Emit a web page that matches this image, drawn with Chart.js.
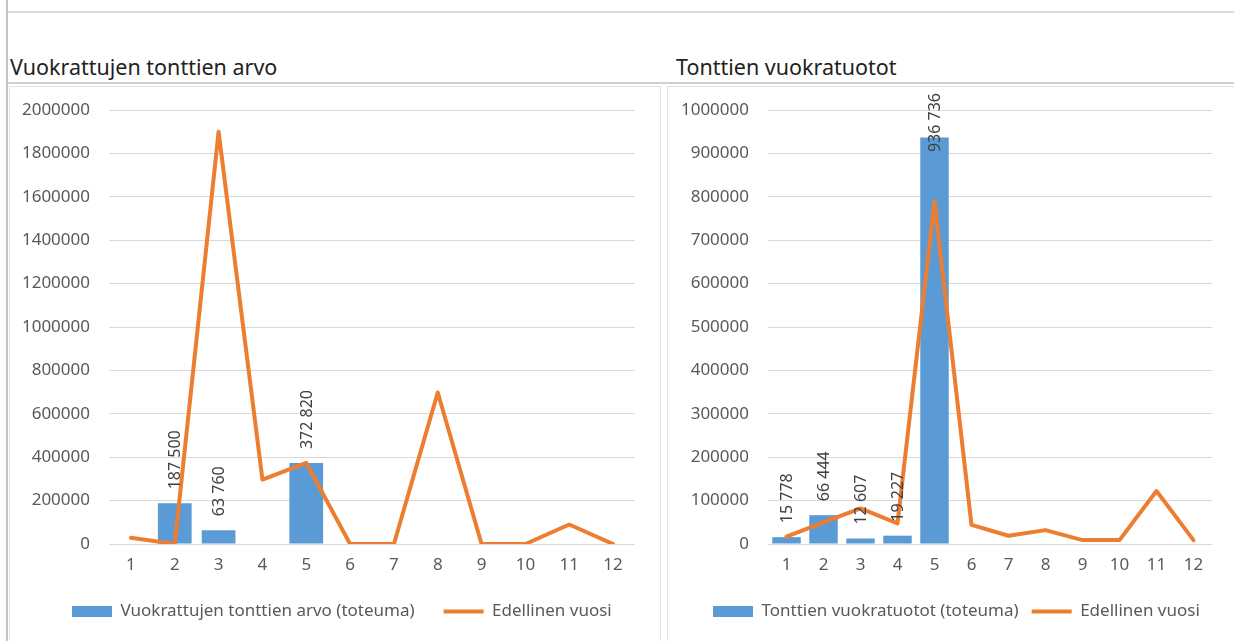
<!DOCTYPE html>
<html>
<head>
<meta charset="utf-8">
<script src="https://cdn.jsdelivr.net/npm/chart.js@4/dist/chart.umd.min.js"></script>
<style>
  html, body { margin: 0; padding: 0; background: #fff; }
  body { width: 1234px; height: 641px; position: relative; overflow: hidden; font-family: "Noto Sans", sans-serif; }
  .abs { position: absolute; }
  #vline { left: 6px; top: 0; width: 2px; height: 641px; background: #c4c4c4; }
  #topline { left: 8px; top: 11px; right: 0; height: 2px; background: #dcdcdc; }
  #sep { left: 8px; top: 82px; right: 0; height: 2px; background: #d0d0d0; }
  .title { top: 56px; font-size: 21.5px; line-height: 21px; color: #222; white-space: nowrap; }
  .panel { top: 86px; height: 600px; border: 1px solid #e2e2e2; }
  canvas { position: absolute; top: 88px; }
</style>
</head>
<body>
<div id="vline" class="abs"></div>
<div id="topline" class="abs"></div>
<div class="abs title" style="left:10px">Vuokrattujen tonttien arvo</div>
<div class="abs title" style="left:676px">Tonttien vuokratuotot</div>
<div id="sep" class="abs"></div>
<div class="abs panel" style="left:9px; width:650px"></div>
<div class="abs panel" style="left:667px; width:600px"></div>
<canvas id="arvoChart" width="650" height="553" style="left:10px"></canvas>
<canvas id="tuottoChart" width="566" height="553" style="left:668px"></canvas>
<script>
// kuukaudet
const months = ['1', '2', '3', '4', '5', '6', '7', '8', '9', '10', '11', '12'];

// Vuokrattujen tonttien arvo
const arvoToteuma = [null, 187500, 63760, null, 372820, null, null, null, null, null, null, null];
const arvoEdellinen = [29000, 0, 1900000, 297000, 374000, 0, 0, 698000, 0, 0, 90000, 0];
const arvoTicks = { max: 2000000, step: 200000 };

// Tonttien vuokratuotot
const tuottoToteuma = [15778, 66444, 12607, 19227, 936736, null, null, null, null, null, null, null];
const tuottoEdellinen = [17000, 50000, 82000, 47600, 789000, 44000, 19000, 32000, 9000, 9000, 122000, 9000];
const tuottoTicks = { max: 1000000, step: 100000 };

const BLUE = '#5B9BD5';
const ORANGE = '#ED7D31';
const FONT = 'Noto Sans';

Chart.defaults.font.family = FONT;
Chart.defaults.animation = false;

function fmtSpace(v) {
    return String(Math.round(v)).replace(/\B(?=(\d{3})+(?!\d))/g, ' ');
}

// pystysuorat arvot pylväiden päälle
const barLabels = {
    id: 'barLabels',
    afterDatasetsDraw(chart) {
        const ctx = chart.ctx;
        const meta = chart.getDatasetMeta(0);
        const values = chart.data.datasets[0].data;
        ctx.save();
        ctx.font = '16px "' + FONT + '"';
        ctx.fillStyle = '#404040';
        ctx.textAlign = 'left';
        ctx.textBaseline = 'middle';
        meta.data.forEach((bar, i) => {
            const v = values[i];
            if (v == null) return;
            const text = fmtSpace(v);
            const w = ctx.measureText(text).width;
            let start = bar.y - 14;
            const minTop = chart.chartArea.top - 17;
            if (start - w < minTop) start = minTop + w;
            ctx.save();
            ctx.translate(bar.x + 1, start);
            ctx.rotate(-Math.PI / 2);
            ctx.fillText(text, 0, 0);
            ctx.restore();
        });
        ctx.restore();
    }
};

// selite siirretään vasemmasta reunasta haluttuun kohtaan
const legendShift = {
    id: 'legendShift',
    beforeDraw(chart, args, opts) {
        const lg = chart.legend;
        if (!lg) return;
        const w = lg.right - lg.left;
        lg.left = opts.left;
        lg.right = opts.left + w;
    }
};

function makeChart(id, barLabel, barData, lineData, ticks, lay) {
    const ctx = document.getElementById(id).getContext('2d');
    return new Chart(ctx, {
        type: 'bar',
        data: {
            labels: months,
            datasets: [{
                type: 'bar',
                label: barLabel,
                data: barData,
                backgroundColor: BLUE,
                borderWidth: 0,
                barPercentage: 0.77,
                categoryPercentage: 1,
                pointStyle: 'rect',
                order: 1
            }, {
                type: 'line',
                label: 'Edellinen vuosi',
                data: lineData,
                borderColor: ORANGE,
                backgroundColor: ORANGE,
                borderWidth: 4,
                borderJoinStyle: 'round',
                borderCapStyle: 'round',
                tension: 0,
                pointRadius: 0,
                pointHoverRadius: 0,
                pointBorderWidth: 4,
                pointStyle: 'line',
                order: 0
            }]
        },
        options: {
            responsive: false,
            devicePixelRatio: 1,
            layout: {
                padding: { left: 0, right: lay.right, top: 22, bottom: 11 }
            },
            plugins: {
                legend: {
                    position: 'bottom',
                    align: 'start',
                    labels: {
                        usePointStyle: true,
                        pointStyleWidth: 40,
                        boxHeight: 11,
                        padding: lay.legendGap,
                        color: '#595959',
                        font: { size: 17 },
                        sort: (a, b) => a.datasetIndex - b.datasetIndex
                    }
                },
                legendShift: { left: lay.legendLeft },
                tooltip: { enabled: false }
            },
            scales: {
                x: {
                    grid: { display: false, drawTicks: false },
                    border: { display: false },
                    ticks: { color: '#595959', font: { size: 17 }, padding: 11, maxRotation: 0, autoSkip: false },
                    afterFit(s) { s.height = 59 - lay.legendGap; }
                },
                y: {
                    min: 0,
                    max: ticks.max,
                    grid: { color: '#d9d9d9', lineWidth: 1, drawTicks: false },
                    border: { display: false },
                    ticks: {
                        stepSize: ticks.step,
                        color: '#595959',
                        font: { size: 17 },
                        padding: 19,
                        callback: v => String(v)
                    },
                    afterFit(s) {
                        s.width = lay.yWidth;
                        s.paddingTop = 0;
                        s.paddingBottom = 0;
                    }
                }
            }
        },
        plugins: [barLabels, legendShift]
    });
}

makeChart('arvoChart', 'Vuokrattujen tonttien arvo (toteuma)', arvoToteuma, arvoEdellinen, arvoTicks,
    { right: 25, yWidth: 99, legendGap: 29, legendLeft: 33 });
makeChart('tuottoChart', 'Tonttien vuokratuotot (toteuma)', tuottoToteuma, tuottoEdellinen, tuottoTicks,
    { right: 22, yWidth: 100, legendGap: 13, legendLeft: 32 });
</script>
</body>
</html>
